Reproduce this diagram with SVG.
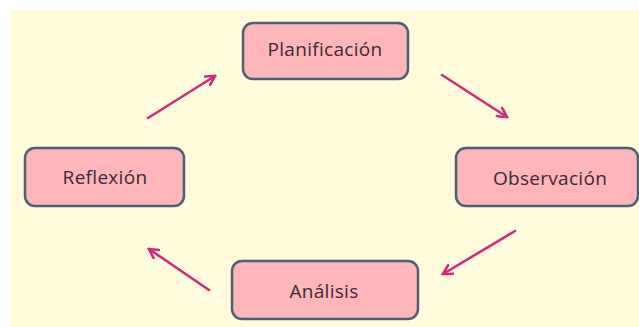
<svg xmlns="http://www.w3.org/2000/svg" width="639" height="327" viewBox="0 0 639 327">
  <style>
    .box { fill: #ffb6bb; stroke: #4c6271; stroke-width: 2.5; }
    .lbl { font-family: "Open Sans", "Liberation Sans", sans-serif; font-size: 19px; letter-spacing: 0.3px; fill: #3a2a38; text-anchor: middle; }
    .arr { stroke: #cf2c7e; stroke-width: 2.6; fill: none; stroke-linecap: round; }
  </style>
  <defs>
    <marker id="head" viewBox="0 0 12 12" refX="10" refY="6" markerWidth="12" markerHeight="12" markerUnits="userSpaceOnUse" orient="auto">
      <path d="M1,1 L10,6 L1,11" fill="none" stroke="#cf2c7e" stroke-width="2.6" stroke-linecap="round" stroke-linejoin="miter"/>
    </marker>
  </defs>
  <rect x="0" y="0" width="639" height="327" fill="#ffffff"/>
  <rect x="10" y="10" width="629" height="317" fill="#fffbdc"/>
  <g id="connectors">
    <line class="arr" x1="148" y1="118" x2="215" y2="76" marker-end="url(#head)"/>
    <line class="arr" x1="442" y1="75" x2="507" y2="117" marker-end="url(#head)"/>
    <line class="arr" x1="515" y1="231" x2="443" y2="274" marker-end="url(#head)"/>
    <line class="arr" x1="209" y1="290" x2="149" y2="249" marker-end="url(#head)"/>
  </g>
  <g id="planificacion">
    <rect class="box" x="243" y="23" width="165" height="56" rx="10"/>
    <text class="lbl" x="325" y="56">Planificación</text>
  </g>
  <g id="observacion">
    <rect class="box" x="456" y="148" width="182" height="58" rx="10"/>
    <text class="lbl" x="550" y="185">Observación</text>
  </g>
  <g id="analisis">
    <rect class="box" x="232" y="261" width="186" height="58" rx="10"/>
    <text class="lbl" x="324" y="298">Análisis</text>
  </g>
  <g id="reflexion">
    <rect class="box" x="25" y="148" width="159" height="58" rx="10"/>
    <text class="lbl" x="105" y="184">Reflexión</text>
  </g>
</svg>
